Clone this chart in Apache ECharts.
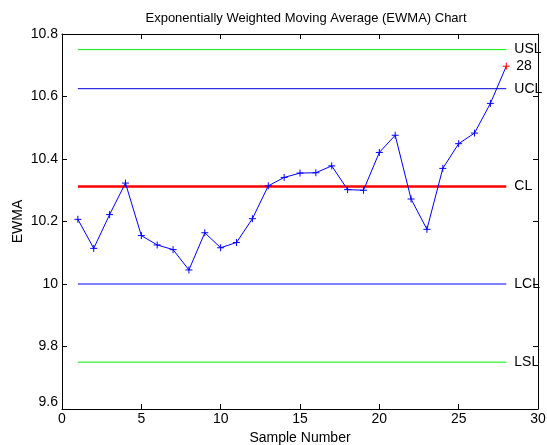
<!DOCTYPE html>
<html>
<head>
<meta charset="utf-8">
<script src="https://cdn.jsdelivr.net/npm/echarts@6/dist/echarts.min.js"></script>
<style>
  html, body { margin: 0; padding: 0; background: #fff; }
  #chart { width: 547px; height: 445px; }
</style>
</head>
<body>
<div id="chart"></div>
<script>
// EWMA statistic for each sample
const samples = [1, 2, 3, 4, 5, 6, 7, 8, 9, 10, 11, 12, 13, 14, 15, 16, 17, 18, 19, 20, 21, 22, 23, 24, 25, 26, 27, 28];
const ewma = [10.207, 10.114, 10.222, 10.323, 10.155, 10.125, 10.110, 10.045, 10.164, 10.116,
              10.133, 10.209, 10.314, 10.341, 10.355, 10.356, 10.378, 10.302, 10.300, 10.421,
              10.476, 10.272, 10.175, 10.370, 10.449, 10.483, 10.578, 10.697];
// Limits: name, value, colour, width
const limitNames = ['USL', 'UCL', 'CL', 'LCL', 'LSL'];
const limitValues = [10.75, 10.625, 10.312, 10.0, 9.75];
const limitColors = ['#00ee00', '#0000dd', '#ff0000', '#7f7fff', '#00ee00'];
const limitWidths = [1, 1, 2.5, 2, 1];
// Point flagged out of control
const flagged = [28];
const xTicks = { min: 0, max: 30, interval: 5 };
const yTicks = { min: 9.6, max: 10.8, interval: 0.2 };

const FONT = 'Liberation Sans, Arial, Helvetica, sans-serif';
const plus = 'path://M0,5L10,5M5,0L5,10';

const lineData = samples.map((s, i) => {
  const out = flagged.includes(s);
  return {
    value: [s, ewma[i]],
    itemStyle: out ? { color: '#ff0000', borderColor: '#ff0000' } : undefined,
    label: out ? { show: true, position: 'right', distance: 6, formatter: String(s),
                   color: '#000', fontSize: 14, fontFamily: FONT } : undefined
  };
});

const limitSeries = limitNames.map((n, i) => ({
  type: 'line',
  name: n,
  data: [[samples[0], limitValues[i]], [samples[samples.length - 1], limitValues[i]]],
  symbol: 'none',
  silent: true,
  z: n === 'CL' ? 3 : 2,
  lineStyle: { color: limitColors[i], width: limitWidths[i] },
  endLabel: { show: true, formatter: n, distance: 8, color: '#000', fontSize: 14, fontFamily: FONT }
}));

const yFmt = v => {
  const t = String(+(+v).toFixed(1));
  return Math.abs(v - yTicks.min) < 1e-6 ? '{lo|' + t + '}' : t;
};

const axisLine = { show: true, onZero: false, lineStyle: { color: '#000', width: 1 } };
const tick = { show: true, inside: true, length: 5, lineStyle: { color: '#000' } };

const chart = echarts.init(document.getElementById('chart'), null, { renderer: 'canvas' });
chart.setOption({
  animation: false,
  backgroundColor: '#fff',
  title: {
    text: 'Exponentially Weighted Moving Average (EWMA) Chart',
    left: 301, top: 7, textAlign: 'center',
    textStyle: { fontFamily: FONT, fontSize: 13, fontWeight: 'normal', color: '#000' }
  },
  grid: { left: 62, right: 9, top: 34, bottom: 36, containLabel: false, outerBoundsMode: 'none' },
  xAxis: [{
    type: 'value', min: xTicks.min, max: xTicks.max, interval: xTicks.interval,
    name: 'Sample Number', nameLocation: 'middle', nameGap: 22, nameMoveOverlap: false,
    nameTextStyle: { fontFamily: FONT, fontSize: 14, color: '#000' },
    axisLine, axisTick: tick, splitLine: { show: false },
    axisLabel: { margin: 3, fontFamily: FONT, fontSize: 14, color: '#000' }
  }, {
    type: 'value', position: 'top', min: xTicks.min, max: xTicks.max, interval: xTicks.interval,
    axisLine, axisTick: tick, splitLine: { show: false }, axisLabel: { show: false }
  }],
  yAxis: [{
    type: 'value', min: yTicks.min, max: yTicks.max, interval: yTicks.interval,
    name: 'EWMA', nameLocation: 'middle', nameGap: 37, nameMoveOverlap: false,
    nameTextStyle: { fontFamily: FONT, fontSize: 14, color: '#000' },
    axisLine, axisTick: tick, splitLine: { show: false },
    axisLabel: { margin: 4, fontFamily: FONT, fontSize: 14, color: '#000', formatter: yFmt,
                 rich: { lo: { fontFamily: FONT, fontSize: 14, color: '#000', padding: [0, 0, 13, 0] } } }
  }, {
    type: 'value', position: 'right', min: yTicks.min, max: yTicks.max, interval: yTicks.interval,
    axisLine, axisTick: tick, splitLine: { show: false }, axisLabel: { show: false }
  }],
  series: [
    ...limitSeries,
    {
      type: 'line',
      name: 'EWMA',
      data: lineData,
      z: 5,
      symbol: plus,
      symbolSize: 7,
      showAllSymbol: true,
      lineStyle: { color: '#0000ff', width: 1 },
      itemStyle: { color: '#0000ff', borderColor: '#0000ff', borderWidth: 1 }
    }
  ]
});
</script>
</body>
</html>
